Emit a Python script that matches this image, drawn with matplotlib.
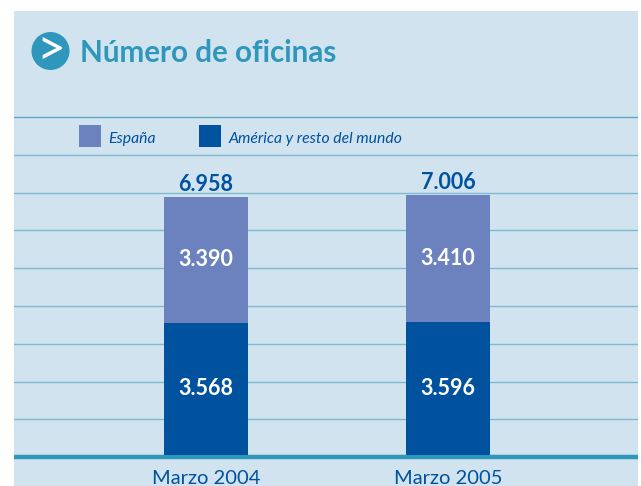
import matplotlib
matplotlib.use("Agg")
import matplotlib.pyplot as plt
from matplotlib.patches import Rectangle, Circle
from matplotlib.transforms import Affine2D

W, H = 641, 486

categories = ["Marzo 2004", "Marzo 2005"]
espana = [3390, 3410]
america = [3568, 3596]
totales = [6958, 7006]
series_names = ["España", "América y resto del mundo"]

fondo = "#D0E3EE"
claro = "#6C82BE"
oscuro = "#00529F"
turquesa = "#2F97BB"
linea = "#7FBAD3"

plt.rcParams["font.family"] = ["Lato", "DejaVu Sans"]


def etiqueta(v):
    # miles con punto, como en el original
    return f"{v:,}".replace(",", ".")


fig = plt.figure(figsize=(W / 100, H / 100), dpi=100, facecolor="white")
# coordenadas en pixeles (origen arriba a la izquierda) para el marco y el titulo
px = Affine2D().scale(1 / W, -1 / H).translate(0, 1) + fig.transFigure

fig.add_artist(Rectangle((14, 11), 624, 475, transform=px, facecolor=fondo, edgecolor="none", zorder=-5))

# ejes: de x=14 a x=638, de y=11 a y=457
ax = fig.add_axes([14 / W, (H - 457) / H, 624 / W, 446 / H], facecolor="none")

k = 258 / 6958  # pixeles por oficina
ax.set_ylim(-2 / k, 444 / k)
paso = 242  # pixeles entre las dos barras
ax.set_xlim((14 - 206) / paso, (638 - 206) / paso)

x = [0, 1]
ancho = 84 / paso
b1 = ax.bar(x, america, ancho, color=oscuro, label=series_names[1], zorder=3)
b2 = ax.bar(x, espana, ancho, bottom=america, color=claro, label=series_names[0], zorder=3)

ax.bar_label(b1, labels=[etiqueta(v) for v in america], label_type="center", color="white",
             fontsize=15.5, fontweight="bold")
ax.bar_label(b2, labels=[etiqueta(v) for v in espana], label_type="center", color="white",
             fontsize=15.5, fontweight="bold")
ax.bar_label(b2, labels=[etiqueta(v) for v in totales], label_type="edge", color=oscuro,
             fontsize=15.5, fontweight="bold", padding=1.5)

# lineas horizontales de fondo
ax.set_yticks([(455 - (117 + 37.8 * i)) / k for i in range(9)])
ax.tick_params(axis="y", length=0, labelleft=False)
ax.grid(axis="y", color=linea, linewidth=1.0)
ax.get_ygridlines()[0].set_color("#5FA6C4")
ax.set_axisbelow(True)

ax.set_xticks(x, categories)
ax.tick_params(axis="x", length=0, pad=9, labelsize=14.5, labelcolor=oscuro)

for lado in ["top", "left", "right"]:
    ax.spines[lado].set_visible(False)
ax.spines["bottom"].set_color(turquesa)
ax.spines["bottom"].set_linewidth(3.2)
ax.spines["bottom"].set_capstyle("butt")

leg = ax.legend(handles=[b2, b1], labels=series_names, ncol=2, frameon=False,
                loc="lower left", bbox_to_anchor=(65 / 624, (457 - 147) / 446), borderaxespad=0, borderpad=0,
                prop={"style": "italic", "size": 11.3}, labelcolor=oscuro,
                handlelength=1.4, handleheight=1.78, handletextpad=0.45, columnspacing=2.8)
for t in leg.get_texts():
    t.set_y(-2)

# titulo con el circulo
fig.add_artist(Circle((50.5, 51), 19, transform=px, facecolor=turquesa, edgecolor="none"))
fig.text(50.5 / W, 1 - 51 / H, ">", color="white", fontsize=36, ha="center", va="center")
fig.text(80 / W, 1 - 53 / H, "Número de oficinas", color=turquesa, fontsize=21.3, fontweight="bold",
         ha="left", va="center")

fig.savefig("out.png", dpi=100)
